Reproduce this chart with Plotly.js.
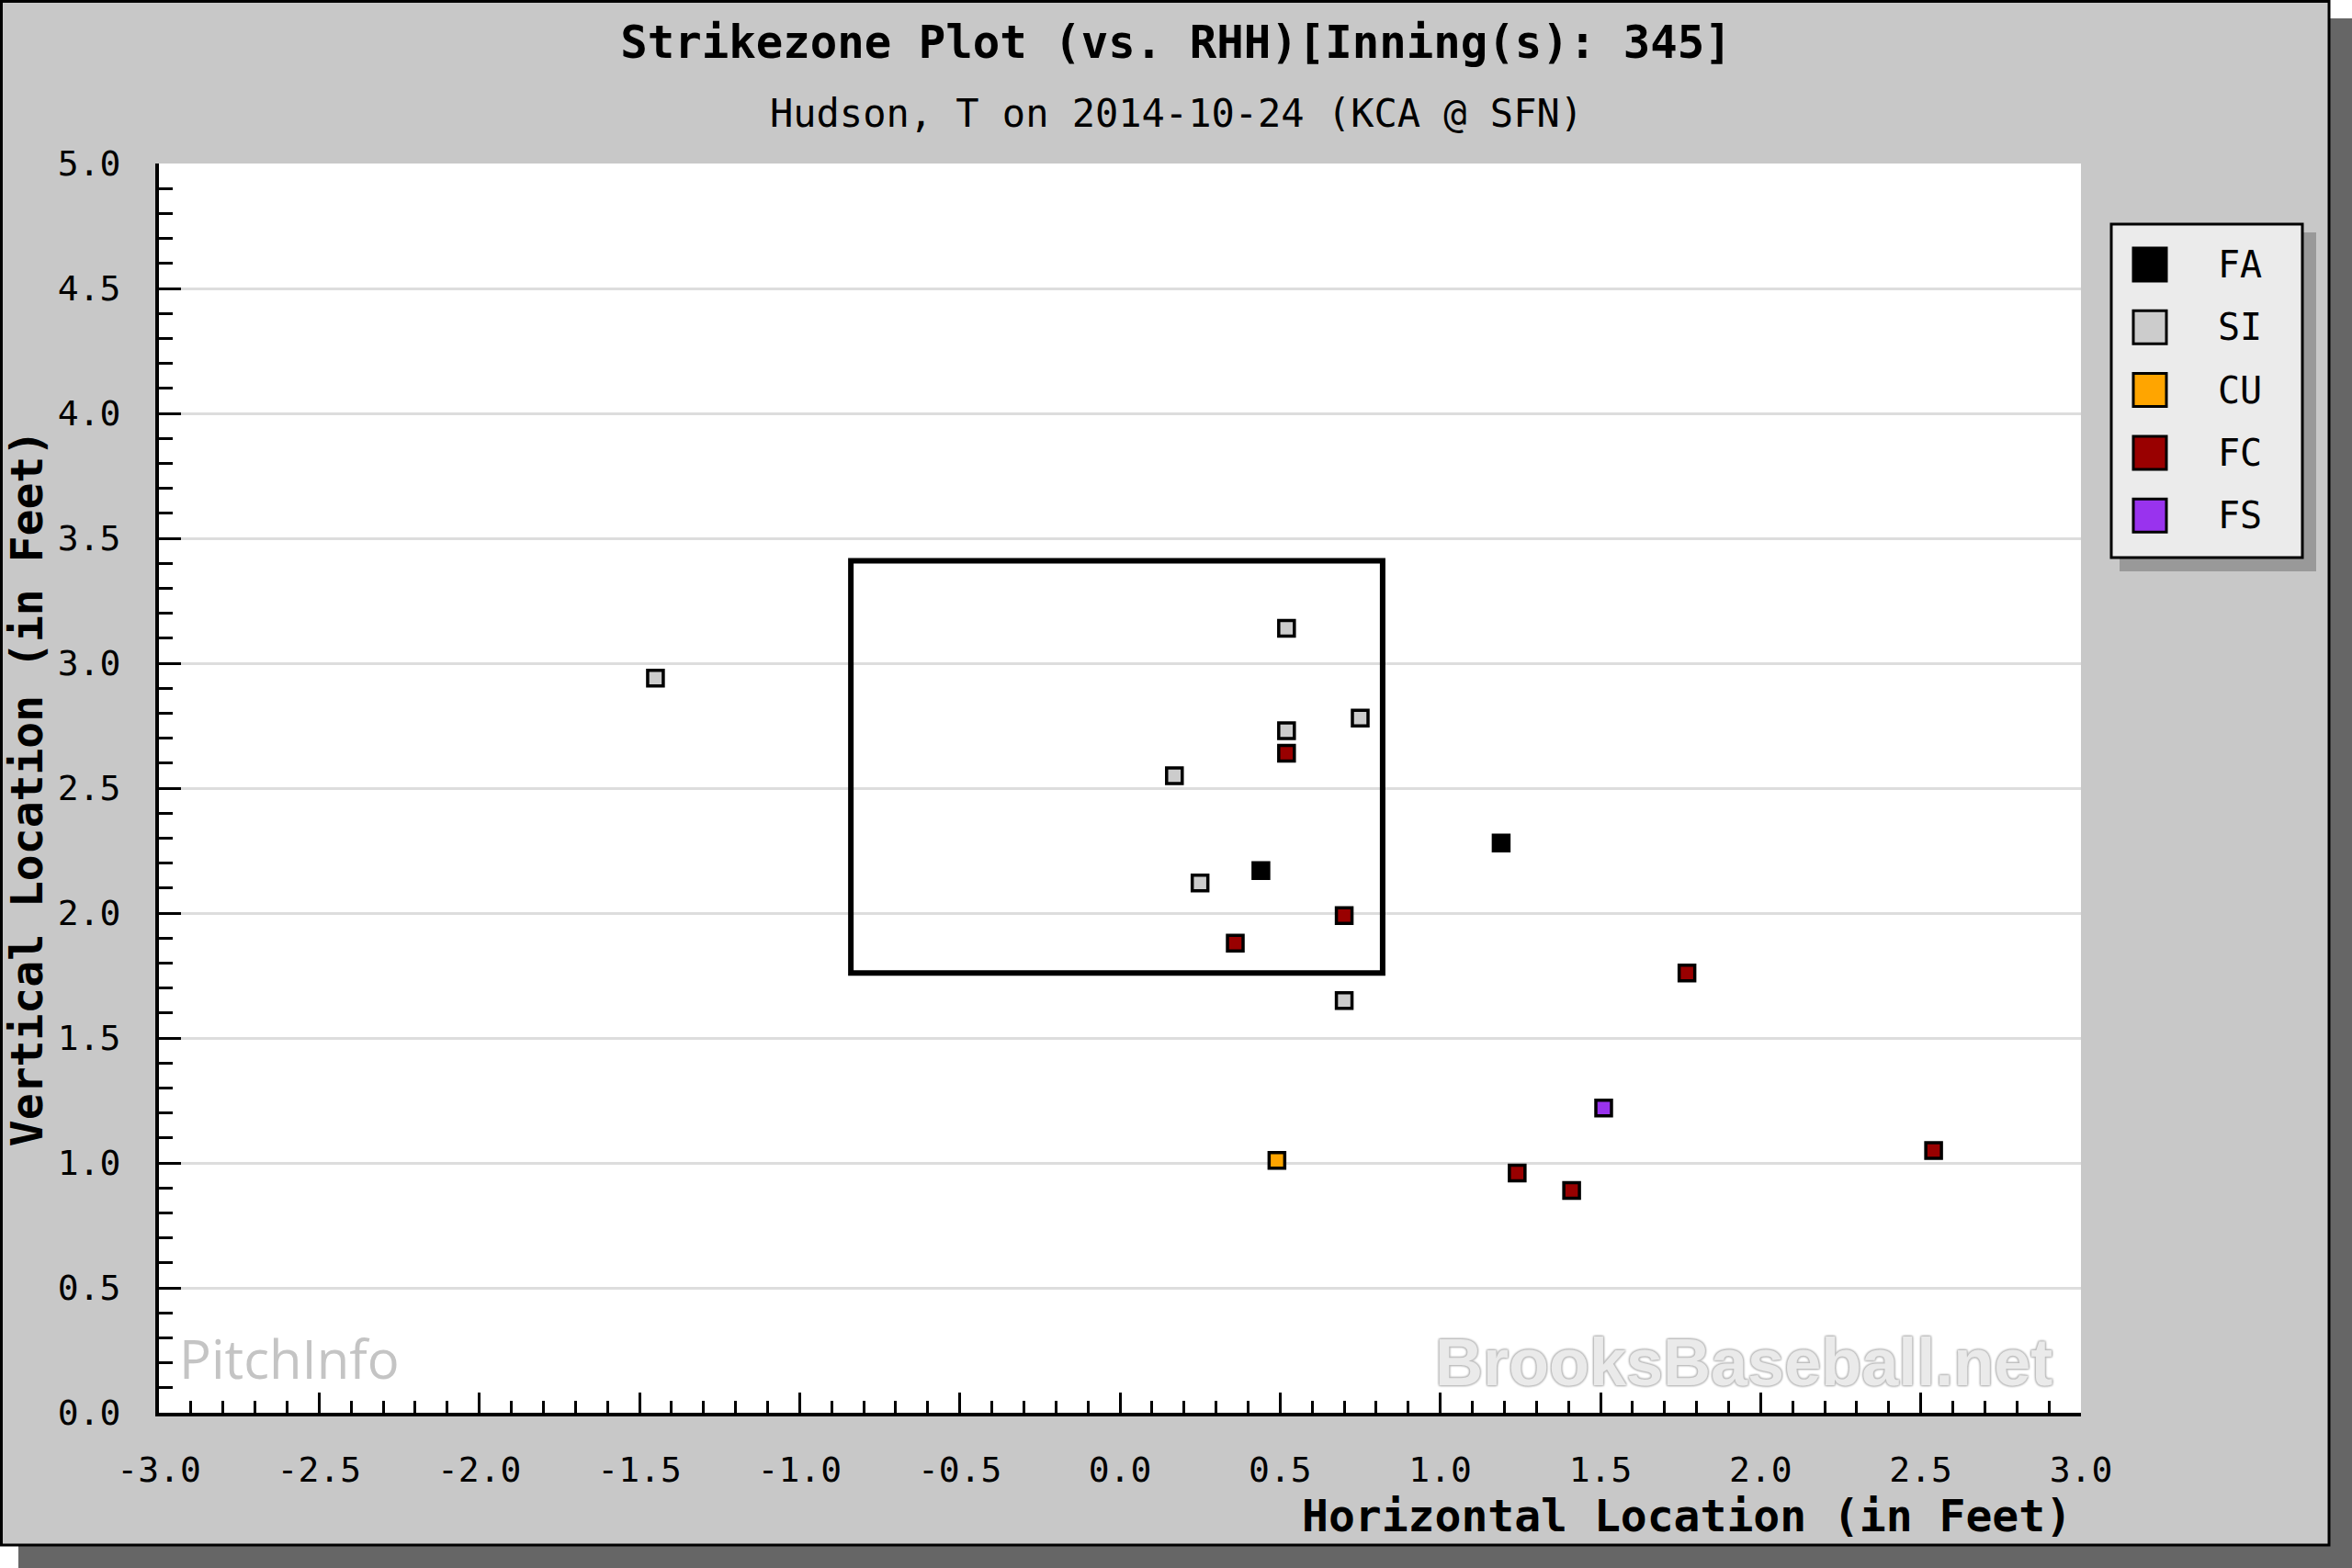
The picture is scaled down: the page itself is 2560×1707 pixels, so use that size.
<!DOCTYPE html>
<html>
<head>
<meta charset="utf-8">
<script src="https://cdn.plot.ly/plotly-3.0.1.min.js"></script>
<style>
  html, body { margin: 0; padding: 0; background: #ffffff; }
  #chart { width: 2560px; height: 1707px; }
</style>
</head>
<body>
<div id="chart"></div>
<script>
// ---- Data ----
const pitchTypes  = ['FA', 'SI', 'CU', 'FC', 'FS'];
const pitchColors = ['#000000', '#CCCCCC', '#FFA500', '#990000', '#9933EE'];

const faX = [0.44, 1.19];
const faY = [2.17, 2.28];
const siX = [-1.45, 0.52, 0.52, 0.75, 0.17, 0.25, 0.70];
const siY = [2.94, 3.14, 2.73, 2.78, 2.55, 2.12, 1.65];
const cuX = [0.49];
const cuY = [1.01];
const fcX = [0.52, 0.70, 0.36, 1.77, 1.24, 1.41, 2.54];
const fcY = [2.64, 1.99, 1.88, 1.76, 0.96, 0.89, 1.05];
const fsX = [1.51];
const fsY = [1.22];

const strikeZoneX = [-0.84, 0.82];
const strikeZoneY = [1.76, 3.41];

const xTickVals = [-3.0, -2.5, -2.0, -1.5, -1.0, -0.5, 0.0, 0.5, 1.0, 1.5, 2.0, 2.5, 3.0];
const yTickVals = [0.0, 0.5, 1.0, 1.5, 2.0, 2.5, 3.0, 3.5, 4.0, 4.5, 5.0];

const titleText    = 'Strikezone Plot (vs. RHH)[Inning(s): 345]';
const subtitleText = 'Hudson, T on 2014-10-24 (KCA @ SFN)';
const xTitleText   = 'Horizontal Location (in Feet)';
const yTitleText   = 'Vertical Location (in Feet)';

const seriesX = [faX, siX, cuX, fcX, fsX];
const seriesY = [faY, siY, cuY, fcY, fsY];

// ---- Layout geometry (pixels) ----
const W = 2560, H = 1707;
const L = 173, R = 2265, T = 178, B = 1538;
const px = p => (p - L) / (R - L);
const py = p => (B - p) / (B - T);

const MONO = 'DejaVu Sans Mono, Liberation Mono, monospace';

const traces = pitchTypes.map((name, i) => ({
  type: 'scatter',
  mode: 'markers',
  name: name,
  x: seriesX[i],
  y: seriesY[i],
  showlegend: false,
  marker: {
    symbol: 'square',
    size: 17,
    color: pitchColors[i],
    line: { color: '#000000', width: 3.5 }
  },
  hoverinfo: 'x+y+name'
}));

const fmt = v => v.toFixed(1);

const shapes = [
  // outer drop shadow
  { type: 'rect', xref: 'paper', yref: 'paper', layer: 'below',
    x0: px(20), x1: px(2560), y0: py(1707), y1: py(20),
    fillcolor: '#666666', line: { width: 0 } },
  // gray frame
  { type: 'rect', xref: 'paper', yref: 'paper', layer: 'below',
    x0: px(1.5), x1: px(2535), y0: py(1682), y1: py(1.5),
    fillcolor: '#C8C8C8', line: { color: '#000000', width: 3 } },
  // white plotting area
  { type: 'rect', xref: 'paper', yref: 'paper', layer: 'below',
    x0: 0, x1: 1, y0: 0, y1: 1,
    fillcolor: '#FFFFFF', line: { width: 0 } },
  // strike zone
  { type: 'rect', xref: 'x', yref: 'y', layer: 'between',
    x0: strikeZoneX[0], x1: strikeZoneX[1], y0: strikeZoneY[0], y1: strikeZoneY[1],
    fillcolor: 'rgba(0,0,0,0)', line: { color: '#000000', width: 6 } },
  // legend shadow
  { type: 'rect', xref: 'paper', yref: 'paper', layer: 'above',
    x0: px(2307), x1: px(2521), y0: py(622), y1: py(253),
    fillcolor: '#999999', line: { width: 0 } },
  // legend box
  { type: 'rect', xref: 'paper', yref: 'paper', layer: 'above',
    x0: px(2298), x1: px(2506), y0: py(607), y1: py(244),
    fillcolor: '#EBEBEB', line: { color: '#000000', width: 3 } }
];

const annotations = [
  { xref: 'paper', yref: 'paper', x: (1280 - L) / (R - L), y: py(124),
    xanchor: 'center', yanchor: 'middle', showarrow: false,
    text: subtitleText, font: { family: MONO, size: 42, color: '#000000' } },
  { xref: 'paper', yref: 'paper', x: px(2257), y: py(1650),
    xanchor: 'right', yanchor: 'middle', showarrow: false,
    text: xTitleText, font: { family: MONO, size: 48, color: '#000000', weight: 'bold' } },
  { xref: 'paper', yref: 'paper', x: px(193), y: py(1478),
    xanchor: 'left', yanchor: 'middle', showarrow: false,
    text: 'PitchInfo', font: { family: 'Open Sans, Liberation Sans, sans-serif', size: 58, color: '#C4C4C4' } },
  { xref: 'paper', yref: 'paper', x: px(2236), y: py(1483),
    xanchor: 'right', yanchor: 'middle', showarrow: false,
    text: 'BrooksBaseball.net',
    font: { family: 'Liberation Sans, Arial, sans-serif', size: 72, color: '#EAEAEA', weight: 'bold',
            shadow: '1px 1px 2px #BDBDBD, -1px -1px 2px #BDBDBD, 1px -1px 2px #BDBDBD, -1px 1px 2px #BDBDBD' } }
];

// custom legend entries
pitchTypes.forEach((name, i) => {
  const cy = 288 + i * 68.3;
  shapes.push({ type: 'rect', xref: 'paper', yref: 'paper', layer: 'above',
    x0: px(2322), x1: px(2358), y0: py(cy + 18), y1: py(cy - 18),
    fillcolor: pitchColors[i], line: { color: '#000000', width: 3 } });
  annotations.push({ xref: 'paper', yref: 'paper', x: px(2412), y: py(cy),
    xanchor: 'left', yanchor: 'middle', showarrow: false,
    text: name, font: { family: MONO, size: 40, color: '#000000' } });
});

const layout = {
  width: W, height: H,
  margin: { l: L, r: W - R, t: T, b: H - B, pad: 0 },
  paper_bgcolor: '#FFFFFF',
  plot_bgcolor: 'rgba(0,0,0,0)',
  showlegend: false,
  title: {
    text: titleText,
    x: 0.5, xref: 'container', xanchor: 'center',
    y: 1 - 46 / H, yref: 'container', yanchor: 'middle',
    font: { family: MONO, size: 49, color: '#000000', weight: 'bold' }
  },
  xaxis: {
    range: [-3, 3], autorange: false,
    tickmode: 'array', tickvals: xTickVals, ticktext: xTickVals.map(fmt),
    ticks: 'inside', ticklen: 22, tickwidth: 3, tickcolor: '#000000',
    minor: { dtick: 0.1, tick0: 0, ticks: 'inside', ticklen: 13, tickwidth: 3, tickcolor: '#000000', showgrid: false },
    showgrid: false, zeroline: false,
    showline: true, linecolor: '#000000', linewidth: 4, mirror: false,
    ticklabelstandoff: 25,
    tickfont: { family: MONO, size: 38, color: '#000000' }
  },
  yaxis: {
    range: [0, 5], autorange: false,
    tickmode: 'array', tickvals: yTickVals, ticktext: yTickVals.map(fmt),
    ticks: 'inside', ticklen: 24, tickwidth: 3, tickcolor: '#000000',
    minor: { dtick: 0.1, tick0: 0, ticks: 'inside', ticklen: 15, tickwidth: 3, tickcolor: '#000000', showgrid: false },
    showgrid: true, gridcolor: '#DDDDDD', gridwidth: 3,
    zeroline: false,
    showline: true, linecolor: '#000000', linewidth: 4, mirror: false,
    ticklabelstandoff: 30,
    tickfont: { family: MONO, size: 38, color: '#000000' },
    title: {
      text: yTitleText, standoff: 2,
      font: { family: MONO, size: 48, color: '#000000', weight: 'bold' }
    }
  },
  shapes: shapes,
  annotations: annotations
};

Plotly.newPlot('chart', traces, layout, { staticPlot: true, displayModeBar: false });
</script>
</body>
</html>
